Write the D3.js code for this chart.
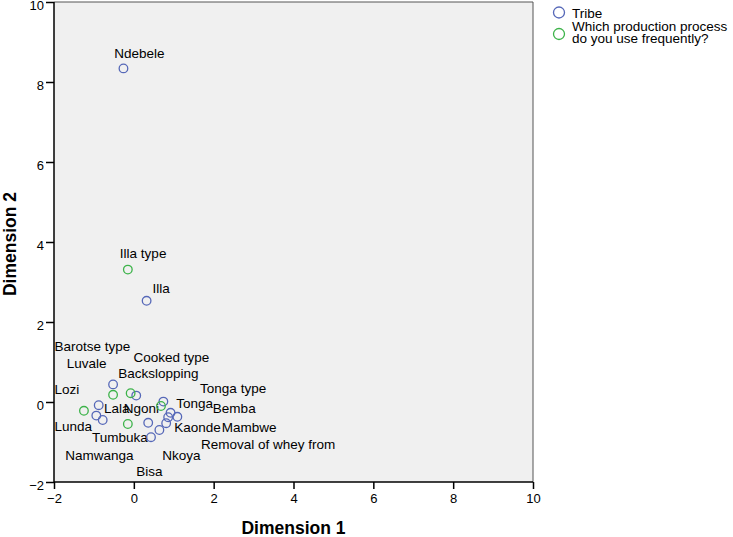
<!DOCTYPE html>
<html><head><meta charset="utf-8">
<script src="https://cdn.jsdelivr.net/npm/d3@7"></script>
<style>
html,body{margin:0;padding:0;background:#fff;}
svg{display:block;font-family:"Liberation Sans",Arial,sans-serif;}
</style></head>
<body>
<svg id="chart" width="733" height="537"></svg>
<script>
// ---- data ----
const xTicks = [-2, 0, 2, 4, 6, 8, 10];
const yTicks = [-2, 0, 2, 4, 6, 8, 10];
const seriesNames = ["Tribe", "Which production process|do you use frequently?"];

// Tribe points (Dimension 1, Dimension 2)
const tribeX = [-0.26, 0.32, -0.52, 0.06, -0.88, -0.94, -0.78, 0.74, 0.92, 1.09, 0.86, 0.81, 0.64, 0.36, 0.43];
const tribeY = [8.34, 2.53, 0.44, 0.16, -0.08, -0.34, -0.45, 0.01, -0.27, -0.37, -0.38, -0.53, -0.70, -0.52, -0.88];

// Production process points
const procX = [-0.15, -1.25, -0.52, -0.08, -0.15, 0.68];
const procY = [3.31, -0.22, 0.18, 0.22, -0.55, -0.10];

// Point labels (placed by the label layout of the original chart, in data units)
const labelText = ["Ndebele", "Illa", "Illa type", "Barotse type", "Cooked type", "Luvale", "Backslopping",
  "Lozi", "Tonga type", "Lala", "Ngoni", "Tonga", "Bemba", "Lunda", "Kaonde", "Mambwe", "Tumbuka",
  "Removal of whey from", "Namwanga", "Nkoya", "Bisa"];
const labelX = [-0.49, 0.47, -0.35, -1.99, -0.01, -1.68, -0.39, -1.99, 1.66, -0.75, -0.25, 1.06, 1.98,
  -1.99, 1.01, 2.20, -1.05, 1.68, -1.72, 0.71, 0.06];
const labelY = [8.59, 2.72, 3.59, 1.28, 1.01, 0.84, 0.61, 0.19, 0.22, -0.28, -0.28, -0.16, -0.28,
  -0.72, -0.74, -0.74, -0.99, -1.18, -1.45, -1.45, -1.84];

// ---- drawing ----
const svg = d3.select("#chart");
const L = 54, R = 533, T = 2, B = 482;
const x = d3.scaleLinear().domain([-2, 10]).range([L, R]);
const y = d3.scaleLinear().domain([-2, 10]).range([B, T]);
const colors = ["#5668b8", "#3db34a"];

svg.append("rect").attr("x", L).attr("y", T).attr("width", R - L).attr("height", B - T)
  .attr("fill", "#f0f0f0").attr("stroke", "none");
// top & right frame
svg.append("path").attr("d", `M${L},${T}H${R}V${B}`).attr("fill", "none")
  .attr("stroke", "#555").attr("stroke-width", 1);

// axes
const xAxis = d3.axisBottom(x).tickValues(xTicks).tickSize(7).tickPadding(5).tickFormat(d3.format("d"));
const yAxis = d3.axisLeft(y).tickValues(yTicks).tickSize(8).tickPadding(2).tickFormat(d3.format("d"));
const gx = svg.append("g").attr("transform", `translate(0,${B})`).call(xAxis);
const gy = svg.append("g").attr("transform", `translate(${L},0)`).call(yAxis);
[gx, gy].forEach(g => {
  g.select(".domain").attr("stroke", "#000").attr("stroke-width", 1.5);
  g.selectAll(".tick line").attr("stroke", "#000").attr("stroke-width", 1.5);
  g.selectAll(".tick text").attr("fill", "#000").style("font-size", "13px")
    .style("font-family", "'Liberation Sans',Arial,sans-serif");
});
gy.selectAll(".tick text").attr("dy", "0.55em");
gy.select(".domain").attr("d", `M0,${B}V${T}`);
gx.select(".domain").attr("d", `M${L},0H${R}`);

// axis titles
svg.append("text").attr("x", (L + R) / 2).attr("y", 534).attr("text-anchor", "middle")
  .style("font-size", "17.5px").style("font-weight", "bold").text("Dimension 1");
svg.append("text").attr("transform", `translate(16,${(T + B) / 2 + 2}) rotate(-90)`).attr("text-anchor", "middle")
  .style("font-size", "17.5px").style("font-weight", "bold").text("Dimension 2");

// labels
svg.append("g").selectAll("text").data(labelText).join("text")
  .attr("x", (d, i) => x(labelX[i])).attr("y", (d, i) => y(labelY[i]))
  .style("font-size", "13.5px").attr("fill", "#000").text(d => d);

// points
const tribe = tribeX.map((v, i) => [v, tribeY[i]]);
const proc = procX.map((v, i) => [v, procY[i]]);
[[tribe, 0], [proc, 1]].forEach(([pts, k]) => {
  svg.append("g").selectAll("circle").data(pts).join("circle")
    .attr("cx", d => x(d[0])).attr("cy", d => y(d[1])).attr("r", 4.3)
    .attr("fill", "none").attr("stroke", colors[k]).attr("stroke-width", 1.3);
});

// legend
const lg = svg.append("g");
seriesNames.forEach((name, k) => {
  const cy = k === 0 ? 12.5 : 34;
  lg.append("circle").attr("cx", 559).attr("cy", cy).attr("r", 5.5)
    .attr("fill", "none").attr("stroke", colors[k]).attr("stroke-width", 1.3);
  const lines = name.split("|");
  const t = lg.append("text").attr("x", 572).attr("y", k === 0 ? 17.5 : 30.5).style("font-size", "13.5px");
  lines.forEach((ln, j) => t.append("tspan").attr("x", 572).attr("dy", j === 0 ? 0 : 12.5).text(ln));
});
</script>
</body></html>
